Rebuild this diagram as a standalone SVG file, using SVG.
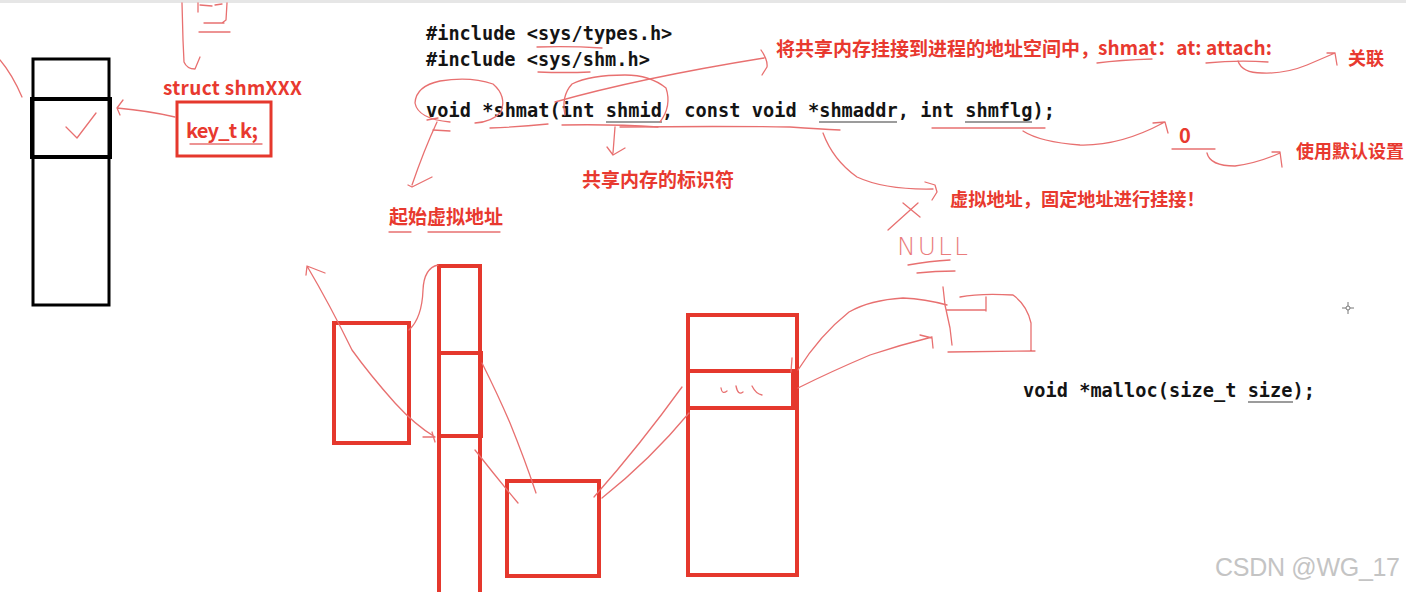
<svg xmlns="http://www.w3.org/2000/svg" width="1406" height="592" viewBox="0 0 1406 592">
<style>
.code{font-family:"DejaVu Sans Mono","Liberation Mono",monospace;font-weight:bold;font-size:18.6px;fill:#141414}
.red{font-family:"Noto Sans CJK SC","Liberation Sans",sans-serif;font-weight:bold;fill:#e8392f}
.box{fill:none;stroke:#e5382d;stroke-width:4}
.blk{fill:none;stroke:#000;stroke-width:3}
.hand{fill:none;stroke:#e87070;stroke-width:1.3;stroke-linecap:round;stroke-linejoin:round}
.ul{stroke:#3a3a3a;stroke-width:1.2}
</style>
<rect width="1406" height="592" fill="#fff"/>
<rect width="1406" height="3" fill="#e6e6e6"/>

<g id="process-memory">
<rect class="blk" x="33" y="59" width="76" height="246"/>
<rect x="32" y="99" width="78" height="58" fill="none" stroke="#000" stroke-width="4"/>
</g>

<g id="struct-shm">
<text class="red" x="163" y="95" font-size="19" textLength="139">struct shmXXX</text>
<rect x="177" y="102" width="94" height="54" fill="none" stroke="#e5382d" stroke-width="3"/>
<text class="red" x="186" y="138" font-size="20" textLength="72">key_t k;</text>
</g>

<g id="code">
<text class="code" x="426" y="40">#include &lt;sys/types.h&gt;</text>
<text class="code" x="426" y="66">#include &lt;sys/shm.h&gt;</text>
<text class="code" x="426" y="117" textLength="629">void *shmat(int shmid, const void *shmaddr, int shmflg);</text>
<line class="ul" x1="606" y1="122" x2="662" y2="122"/>
<line class="ul" x1="819" y1="122" x2="897" y2="122"/>
<line class="ul" x1="965" y1="122" x2="1032" y2="122"/>
<text class="code" x="1023" y="397" textLength="292">void *malloc(size_t size);</text>
<line class="ul" x1="1248" y1="402" x2="1293" y2="402"/>
</g>

<g id="annotations">
<text class="red" x="776" y="56" font-size="19">将共享内存挂接到进程的地址空间中，</text>
<text class="red" x="1098" y="55" font-size="19" textLength="174">shmat：at: attach:</text>
<text class="red" x="1348" y="65" font-size="18">关联</text>
<text class="red" x="1179" y="143" font-size="20">0</text>
<text class="red" x="1296" y="158" font-size="18">使用默认设置</text>
<text class="red" x="582" y="187" font-size="19">共享内存的标识符</text>
<text class="red" x="389" y="224" font-size="19">起始虚拟地址</text>
<text class="red" x="950" y="206" font-size="18.2">虚拟地址，固定地址进行挂接！</text>
<text x="897" y="255" font-family="DejaVu Sans,sans-serif" font-weight="200" font-size="25" fill="#ea7c7c" textLength="71">NULL</text>
</g>

<g id="memory-boxes">
<rect class="box" x="334" y="323" width="75" height="120"/>
<rect class="box" x="439" y="266" width="41" height="330"/>
<rect class="box" x="439" y="353" width="42" height="83"/>
<rect class="box" x="507" y="481" width="92" height="95"/>
<rect class="box" x="688" y="315" width="109" height="260"/>
<rect class="box" x="688" y="371" width="105" height="37"/>
</g>

<g id="connectors">
<path class="hand" d="M182,3 L183,40 L184,62 Q187,69 195,69 L200,57"/>
<path class="hand" d="M198,3 L198,12 M200,5 L212,6 M215,5 L222,4 M227,3 L226,20 L222,23 M204,23 L224,23 M199,32 L230,32"/>
<path class="hand" d="M0,60 Q12,74 22,97"/>
<path class="hand" d="M66,127 L77,138 L96,113"/>
<path class="hand" d="M175,117 Q150,111 117,108 M123,100 L117,108 L120,115"/>
<line class="hand" x1="190" y1="144" x2="262" y2="144"/>
<path class="hand" d="M537,47 Q570,46 602,48 M538,72 Q565,73 590,72"/>
<path class="hand" d="M427,120 L438,118 M433,130 L450,131 M490,128 Q520,127 548,124 M562,125 Q613,124 658,127"/>
<path class="hand" d="M620,127 Q720,126 790,127 Q820,129 840,130 M932,128 L1045,128"/>
<path class="hand" d="M450,122 Q418,119 415,103 Q416,86 440,81 Q470,76 493,84 Q507,96 501,112 Q492,122 475,123"/>
<path class="hand" d="M660,122 Q672,106 666,88 Q650,75 625,75 Q590,75 572,84 Q561,96 565,115"/>
<path class="hand" d="M555,102 Q640,78 764,58 M761,50 Q768,60 767,67 L762,75"/>
<path class="hand" d="M437,122 Q424,150 412,185 M408,185 L412,187 L432,177"/>
<path class="hand" d="M615,127 L613,153 M607,147 L613,155 L625,148"/>
<path class="hand" d="M823,133 Q833,160 857,177 Q885,190 933,189 M925,182 L935,185 L937,192 L932,200"/>
<path class="hand" d="M1023,131 Q1040,142 1080,145 Q1120,146 1163,123 M1153,123 L1165,122 L1168,133"/>
<path class="hand" d="M1172,149 L1215,149 M1207,153 Q1210,166 1235,166 Q1258,163 1280,153 M1272,152 L1280,152 L1282,167"/>
<path class="hand" d="M1097,63 Q1120,60 1152,59 M1206,63 Q1237,60 1268,62"/>
<path class="hand" d="M1238,61 Q1242,73 1262,73 Q1285,74 1307,65 L1335,53 M1327,53 L1335,53 L1337,65"/>
<path class="hand" d="M389,232 L411,232 M428,232 L500,232"/>
<path class="hand" d="M903,203 L920,217 M918,203 L888,230"/>
<path class="hand" d="M908,265 Q930,261 950,260 M917,273 Q935,271 955,271"/>
<path class="hand" d="M943,287 L945,305 L950,328 L952,345 M946,310 L986,310 M986,297 L986,311"/>
<path class="hand" d="M960,297 Q980,293 1013,295 Q1027,305 1031,323 L1031,350 M948,352 L1035,351"/>
<path class="hand" d="M435,437 Q415,425 395,403 Q370,375 352,350 Q330,305 307,266 M306,275 L307,266 L325,273 M423,437 L435,437 M432,432 L435,442"/>
<path class="hand" d="M409,330 Q422,318 423,290 Q424,268 438,265"/>
<path class="hand" d="M482,363 Q498,395 510,423 Q525,460 536,493"/>
<path class="hand" d="M475,450 Q497,478 518,503"/>
<path class="hand" d="M594,497 Q640,445 682,387 M602,498 Q650,460 689,413"/>
<path class="hand" d="M791,372 L792,358 M798,370 Q820,335 849,312 Q870,300 903,298 Q925,299 947,305"/>
<path class="hand" d="M798,388 Q830,372 870,355 Q900,345 932,337 M920,335 L932,338 L933,348"/>
<path class="hand" d="M721,388 Q722,395 727,391 M736,386 Q738,396 743,392 M752,386 Q756,394 762,395"/>
</g>

<g id="cursor" stroke="#777" stroke-width="1">
<line x1="1342" y1="308" x2="1354" y2="308"/>
<line x1="1348" y1="302" x2="1348" y2="314"/>
<circle cx="1348" cy="308" r="2" fill="#fff"/>
</g>

<text x="1215" y="576" font-family="Liberation Sans,sans-serif" font-size="25" fill="#c4c4c4" textLength="185">CSDN @WG_17</text>
</svg>
